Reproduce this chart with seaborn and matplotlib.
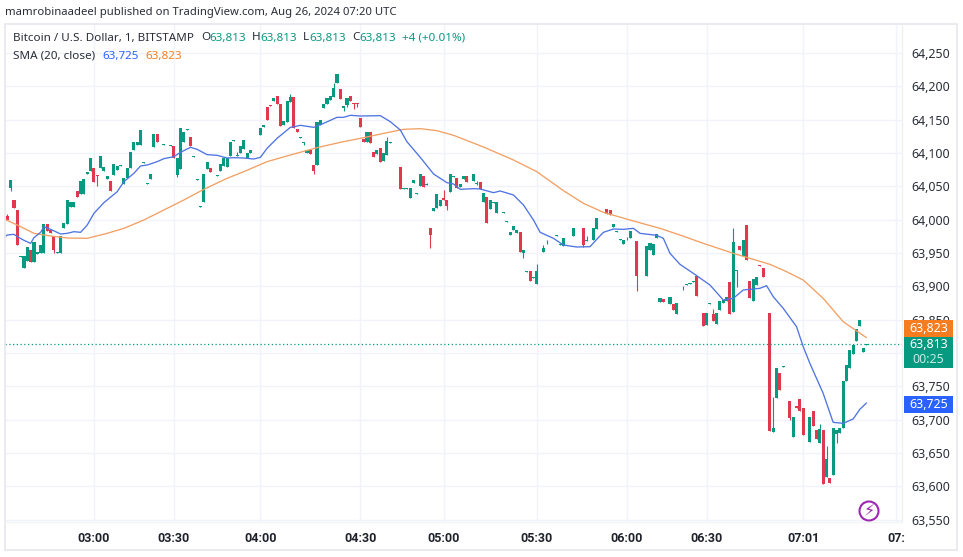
import numpy as np
import pandas as pd
import seaborn as sns
import matplotlib
matplotlib.use("Agg")
import matplotlib.pyplot as plt
from matplotlib.patches import Rectangle, Circle

# ---- candle data, one entry per bar -------------------------------------
opens = [
 64006,64048,64029,64014,63944,63928,63938,63954,63936,63949,
 63950,63950,63993,63985,63975,63950,63950,63988,63993,64019,
 64019,64043,64038,64038,64069,64073,64077,64066.5,64078,64073,
 64061,64058,64067,64074,64081,64054,64062,64077,64104,64112,
 64112,64085.5,64054,64061,64109,64128,64113,64112,64110,64111,
 64110,64067,64076,64116,64135,64124,64094,64060,64019,64027,
 64076,64077,64062,64066,64073,64080,64079,64096,64118,64096,
 64100,64106,64093,64100,64128,64128,64127,64139,64169,64172,
 64178,64185,64173,64142,64147,64176,64184,64136,64123,64115,
 64100,64104,64082,64082,64142,64168,64174,64180,64184,64205,
 64196,64167,64172,64185,64175,64175,64152,64121,64116,64131,
 64101,64099,64107,64088,64097,64115,64113,64077,64079,64046,
 64046,64033,64055,64039,64050,64065,64052,63987,64013,64018,
 64020,64032,64030,64042,64064,64062,64049,64061,64065,64056,
 64058,64054,64056,64027,64034,64016,64025,64010,64023,64010.5,
 63997,63977,63985,63980,63981,63950,63922,63923,63913,63903,
 63927,63951,63963,63972,63972,63976,63962,63960,63975,63975,
 63975,63988,63988,63987,63968,63969,63970,63986,64002,64011,
 64016,64014,63989,63982,63970,63964,63969,63973,63996,63968,
 63912,63951,63916,63955,63947,63973,63877,63881,63873,63874,
 63873,63859,63918,63897,63902,63904,63907,63916,63862,63860,
 63842,63874,63858,63844,63865,63875,63878,63907,63861,63923,
 63961,63945,63992,63908,63878,63902,63932,63928,63912,63860,
 63682,63733,63770,63779,63741,63728,63674,63721,63731,63717,
 63675,63667,63713,63684,63665,63684,63614,63613,63617,63679,
 63680,63688,63758,63778,63799,63818,63841,63801,63812]
closes = [
 64000,64059,64017,63962,63945,63945,63959,63936,63966,63952,
 63962,63993,63983,63980,63955,63951,63975,63995,64029,64026,
 64027,64034,64058,64061,64072,64092,64057,64065.5,64095,64079,
 64065,64043,64084,64080,64082,64062,64077,64101,64116,64116,
 64135,64086.5,64055,64068,64128,64116,64114,64113,64111,64112,
 64092,64093,64137,64131,64136,64110,64095,64061,64020,64068,
 64086,64072,64063,64067,64083,64093,64093,64116,64119,64097,
 64110,64119,64100,64104,64129,64129,64138,64142,64150,64171,
 64183,64173,64141,64148,64178,64184,64137,64132,64124,64116,
 64105,64098,64073,64146,64149,64174,64182,64186,64198,64218,
 64181,64171,64182,64178,64174,64174,64139,64116,64132,64115,
 64094,64104,64086,64100,64118,64116,64114,64078,64046,64047,
 64047,64047,64060,64040,64068,64049,64053,63977,64018,64038,
 64030,64029,64020,64068,64065,64048,64053,64065,64057,64057,
 64068,64055,64046,64040,63995,64030,64026,64027,64024,64011.5,
 63998,63981,63990,63984,63951,63955,63923,63908,63914,63923,
 63928,63958,63964,63973,63973,63977,63963,63972,63976,63976,
 63987,63987,63987,63962,63969,63970,63987,64002,64003,64012,
 64008,64007,63993,63983,63971,63969,63970,63983,63997,63915,
 63913,63952,63960,63965,63963,63978,63882,63877,63874,63884,
 63865,63875,63919,63898,63903,63905,63908,63885,63861,63841,
 63860,63875,63848,63860,63878,63880,63884,63859,63966,63924,
 63955,63970,63939,63882,63911,63914,63931,63914,63913,63683,
 63687,63778,63744,63780,63742,63702,63704,63718,63713,63677,
 63676,63704,63691,63671,63686,63604,63641,63605,63687,63684,
 63688,63758,63782,63804,63812,63836,63849,63807,63813]
high_bars = [0,69,85,98,114,126,131,141,159,161,162,174,186,203,212,218,230,244,246]
high_vals = [64008,64101,64188,64205,64123.5,64054.5,64045,64058,63934,63962,63969.5,
             63976,63974.5,63900,63866,63987,63734.5,63693.5,63660]
low_bars = [1,14,27,51,89,92,101,102,104,105,127,132,141,155,173,189,203,219,235,249]
low_vals = [64043,63950,64050,64064,64112.5,64068.5,64163.5,64169.5,64166.5,64169.5,
            63958,64014.5,64052,63943,63959.5,63893.5,63894.5,63899.5,63699.5,63664.5]

# ---- SMA lines -----------------------------------------------------------
blue_bars = [-1,0,2,3,5,7,8,10,11,13,16,18,20,22,24,26,29,33,35,38,40,42,45,47,50,52,55,57,60,63,66,
 68,71,74,76,78,81,85,88,92,95,99,101,103,106,112,115,118,120,124,128,132,134,
 136,140,142,146,148,152,155,158,160,164,167,171,175,177,179,182,185,188,190,195,197,199,202,
 206,211,215,218,221,223,226,228,230,233,237,239,241,245,248,251,254,256,258]
blue_vals = [63973.5,63977,63978,63974.5,63969,63964.5,63973,63981,63989.5,63985.5,63978.5,63979.5,63982,63981,63992,64009.5,
 64025.5,64042,64057,64069.5,64080.5,64082,64087,64091.5,64094.5,64101,64108.5,64105.5,64097.5,64096.5,64092.5,
 64093,64092.5,64091,64093.5,64107,64122,64138.5,64141.5,64138.5,64144.5,64153.5,64153.5,64156.5,64155.5,64156,64147,64134.5,64117,64093.5,64068.5,64055.5,64053.5,
 64045.5,64046.5,64046,64040.5,64043,64037,64022,63999.5,63981,63972,63962,63959,63959.5,63970.5,63981,63986,63985.5,63987,63979.5,63976.5,63972,63949.5,63933,
 63919.5,63902,63879.5,63882,63894.5,63895.5,63897,63901,63884.5,63867,63839.5,63809.5,63784.5,63739.5,63696,63694.5,63701,63715.5,63725]
orange_bars = [-1,3,8,13,18,24,30,35,41,47,53,59,66,71,78,85,93,100,107,114,119,124,129,134,143,152,159,167,173,179,188,196,202,209,218,223,229,234,239,245,251,258]
orange_vals = [64001,63992,63979.5,63975.5,63972.5,63972,63979.5,63987,63999.5,64014.5,64029.5,64045.5,64062,64072,64087,64097,64108,64116,64123,64130.5,64135.5,64136.5,64133.5,64126.5,64109,64089.5,64072,64043.5,64024.5,64011,63998,63987,63977,63964.5,63949.5,63942,63933,63922,63909.5,63882,63847,63823]

price_ticks = list(range(63550, 64251, 50))
time_ticks = [26, 50, 76, 106, 131, 159, 186, 210, 239, 267]
time_labels = ["03:00","03:30","04:00","04:30","05:00","05:30","06:00","06:30","07:01","07:"]

GREEN, RED = "#089981", "#e0394d"
BLUE, ORANGE = "#4f74e3", "#f2a064"
W, H = 963, 557
FONT = "Noto Sans"

sns.set_theme(style="white")
plt.rcParams["font.family"] = [FONT, "DejaVu Sans"]

fig = plt.figure(figsize=(W/100, H/100), dpi=100, facecolor="white")
L, R, T, B = 5, 902, 24, 522
ax = fig.add_axes([L/W, 1-B/H, (R-L)/W, (B-T)/H])

price_at = lambda y: 64250-(y-53)*1.5
ax.set_xlim((L-7.33)/3.33, (R-7.33)/3.33)
ax.set_ylim(price_at(B), price_at(T))

df = pd.DataFrame({"bar": np.arange(len(opens)), "open": opens, "close": closes})
df["top"] = df[["open", "close"]].max(axis=1)
df["bottom"] = df[["open", "close"]].min(axis=1)
df["color"] = np.where(df["close"] >= df["open"], GREEN, RED)
df["high"] = df["top"]
df["low"] = df["bottom"]
df.loc[high_bars, "high"] = high_vals
df.loc[low_bars, "low"] = low_vals

ax.vlines(df["bar"], df["low"], df["high"], colors=df["color"], lw=0.8, zorder=2)
ax.bar(df["bar"], (df["top"]-df["bottom"]).clip(lower=1.2), bottom=df["bottom"],
       width=0.92, color=df["color"], linewidth=0, zorder=3)

sns.lineplot(data=pd.DataFrame({"bar": orange_bars, "sma": orange_vals}), x="bar", y="sma",
             color=ORANGE, lw=0.95, ax=ax, zorder=4, errorbar=None)
sns.lineplot(data=pd.DataFrame({"bar": blue_bars, "sma": blue_vals}), x="bar", y="sma",
             color=BLUE, lw=0.95, ax=ax, zorder=5, errorbar=None)
ax.axhline(63813, color=GREEN, lw=0.9, ls=(0, (1, 2)), zorder=6)

ax.set_xlabel(""); ax.set_ylabel("")
ax.set_xticks(time_ticks, time_labels, fontweight="bold", family="Roboto")
ax.set_yticks(price_ticks, ["" if p == 63800 else f"{p:,}" for p in price_ticks])
ax.yaxis.tick_right()
ax.grid(True, color="#f0f3fa", lw=1)
ax.set_axisbelow(True)
ax.tick_params(axis="y", length=0, pad=7, labelsize=8.9, labelcolor="#2a2e39")
ax.tick_params(axis="x", length=0, pad=7, labelsize=9, labelcolor="#1f222b")
for s in ax.spines.values():
    s.set_visible(False)

# overlay in pixel coordinates for the chart's furniture
ov = fig.add_axes([0, 0, 1, 1], zorder=10)
ov.set_xlim(0, W); ov.set_ylim(H, 0); ov.axis("off"); ov.patch.set_alpha(0)
frame = "#e6e8ee"
ov.add_patch(Rectangle((5, 24), 952, 526, fill=False, ec=frame, lw=1.2))
ov.plot([902, 902], [24, 522], color="#eef0f4", lw=1)
ov.plot([5, 902], [522, 522], color="#f3f4f7", lw=1)

def t(x, y, s, color="#2a2e39", **kw):
    kw.setdefault("fontsize", 8.4)
    ov.text(x, y, s, color=color, va="center", **kw)

t(5, 12, "mamrobinaadeel published on TradingView.com, Aug 26, 2024 07:20 UTC", fontsize=8.15)
t(13, 38, "Bitcoin / U.S. Dollar, 1, BITSTAMP")
for lx, l, vx in [(201, "O", 209), (252, "H", 260), (303, "L", 309), (352, "C", 359)]:
    t(lx, 38, l)
    t(vx, 38, "63,813", color=GREEN)
t(402, 38, "+4 (+0.01%)", color=GREEN)
t(13, 56, "SMA (20, close)")
t(102, 56, "63,725", color="#2962ff")
t(145, 56, "63,823", color="#f57c1f")

ov.add_patch(Rectangle((904, 320), 48.5, 17, fc="#f57c1f", ec="none"))
ov.add_patch(Rectangle((904, 337), 48.5, 31, fc=GREEN, ec="none"))
ov.add_patch(Rectangle((904, 396), 48.5, 17, fc="#2962ff", ec="none"))
t(928.5, 328, "63,823", color="white", ha="center", fontsize=8.9)
t(928.5, 344.5, "63,813", color="white", ha="center", fontsize=8.9)
t(928.5, 359.5, "00:25", color="#c8ebe4", ha="center", fontsize=8.9)
t(928.5, 404, "63,725", color="white", ha="center", fontsize=8.9)

ov.add_patch(Circle((869, 511), 9.5, fc="white", ec="#9c27b0", lw=1.5))
ov.text(869, 511, "\u26a1", color="#9c27b0", ha="center", va="center", fontsize=11.5,
        family="DejaVu Sans")

fig.savefig("out.png", dpi=100)
